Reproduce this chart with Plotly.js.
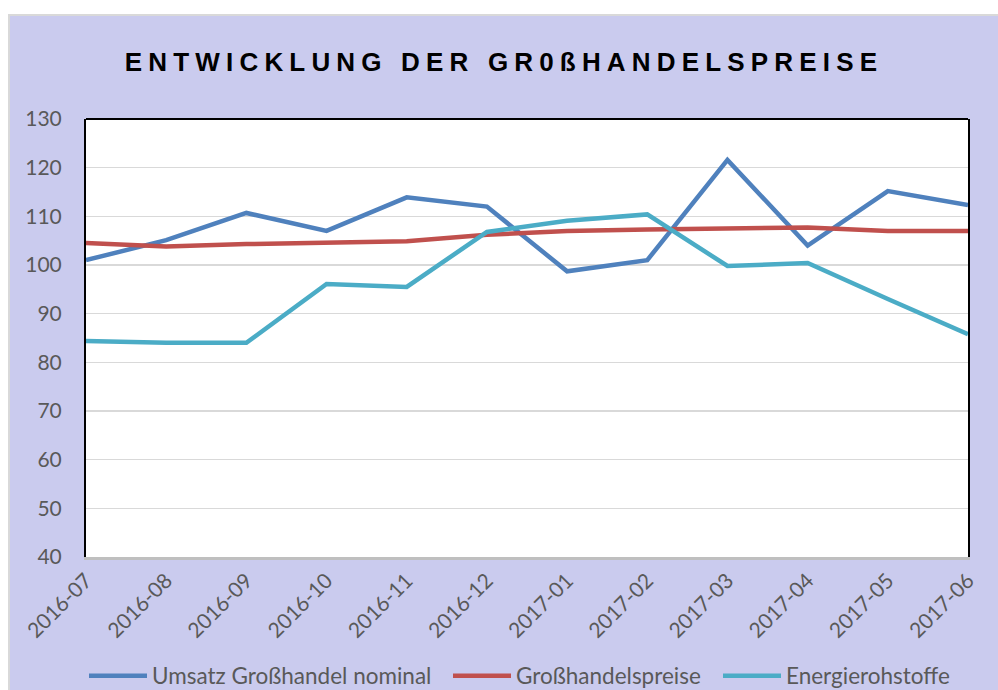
<!DOCTYPE html>
<html>
<head>
<meta charset="utf-8">
<script src="https://cdn.plot.ly/plotly-3.0.1.min.js"></script>
<style>
  html, body { margin: 0; padding: 0; background: #ffffff; }
  #chart { width: 998px; height: 690px; }
</style>
</head>
<body>
<div id="chart"></div>
<script>
const months = ["2016-07","2016-08","2016-09","2016-10","2016-11","2016-12","2017-01","2017-02","2017-03","2017-04","2017-05","2017-06"];
const umsatzNominal = [101.0, 105.1, 110.7, 107.0, 113.9, 112.0, 98.7, 101.0, 121.6, 104.0, 115.2, 112.3];
const grosshandelspreise = [104.5, 103.8, 104.3, 104.7, 104.9, 106.2, 107.0, 107.3, 107.4, 107.7, 107.0, 107.0];
const energierohstoffe = [84.4, 84.0, 84.0, 96.1, 95.5, 106.8, 109.1, 110.4, 99.8, 100.4, 93.0, 85.8];
const seriesNames = ["Umsatz Großhandel nominal", "Großhandelspreise", "Energierohstoffe"];
const titleText = "ENTWICKLUNG DER GR0ßHANDELSPREISE";

const tickFont = { family: "Lato, 'Open Sans', sans-serif", size: 21, color: "#595959" };
const legendFont = { family: "Lato, 'Open Sans', sans-serif", size: 22.5, color: "#595959" };

const traces = [
  { x: months, y: umsatzNominal, name: seriesNames[0], type: "scatter", mode: "lines",
    legend: "legend", line: { color: "#4F81BD", width: 4.5 } },
  { x: months, y: grosshandelspreise, name: seriesNames[1], type: "scatter", mode: "lines",
    legend: "legend2", line: { color: "#C0504D", width: 4.5 } },
  { x: months, y: energierohstoffe, name: seriesNames[2], type: "scatter", mode: "lines",
    legend: "legend3", line: { color: "#4BACC6", width: 4.5 } }
];

const L = 86, R = 968, T = 119, B = 557, W = 998, H = 690;
const pw = R - L, ph = B - T;
const px = p => (p - L) / pw;
const py = p => (B - p) / ph;

function legendAt(leftPx) {
  return {
    orientation: "h",
    xref: "container", yref: "container",
    x: leftPx / W, xanchor: "left",
    y: 1 - 676 / H, yanchor: "middle",
    font: legendFont,
    bgcolor: "rgba(0,0,0,0)",
    itemwidth: 58
  };
}

const layout = {
  width: W, height: H,
  paper_bgcolor: "#ffffff",
  plot_bgcolor: "#ffffff",
  margin: { l: L, r: W - R, t: T, b: H - B, pad: 0, autoexpand: false },
  title: {
    text: titleText,
    font: { family: "'Liberation Sans Narrow', 'Liberation Sans', Arial, sans-serif", size: 26, color: "#000000", weight: "bold" },
    x: 504 / W, xanchor: "center", xref: "container",
    y: 1 - 62 / H, yanchor: "middle", yref: "container"
  },
  showlegend: true,
  legend: legendAt(90 - 6),
  legend2: legendAt(455 - 7),
  legend3: legendAt(725 - 7),
  xaxis: {
    type: "category",
    range: [0, 11],
    automargin: false,
    showgrid: false,
    zeroline: false,
    showline: true,
    linecolor: "#bfbfbf",
    linewidth: 3,
    tickangle: -45,
    tickfont: tickFont,
    ticks: "",
    fixedrange: true
  },
  yaxis: {
    range: [40, 130],
    dtick: 10,
    tick0: 40,
    automargin: false,
    showgrid: true,
    gridcolor: "#d9d9d9",
    gridwidth: 1.5,
    zeroline: false,
    showline: true,
    linecolor: "#000000",
    linewidth: 2,
    mirror: true,
    tickfont: tickFont,
    ticks: "",
    ticklabelstandoff: 18,
    fixedrange: true
  },
  shapes: [
    { type: "rect", xref: "paper", yref: "paper", layer: "below",
      x0: px(9), x1: px(1010), y0: py(15), y1: py(700),
      fillcolor: "#CACBEE", line: { color: "#d9d9d9", width: 2 } },
    { type: "rect", xref: "paper", yref: "paper", layer: "below",
      x0: 0, x1: 1, y0: 0, y1: 1,
      fillcolor: "#ffffff", line: { width: 0 } },
    { type: "line", xref: "paper", yref: "paper", layer: "above",
      x0: 0, x1: 1, y0: 1, y1: 1,
      line: { color: "#000000", width: 2 } }
  ]
};

Plotly.newPlot("chart", traces, layout, { displayModeBar: false, staticPlot: true }).then(() => {
  const t = document.querySelector("#chart .gtitle");
  if (t) {
    const target = 752;
    const natural = t.getComputedTextLength();
    const n = titleText.length;
    const ls = Math.max(0, (target - natural) / (n - 1));
    t.style.letterSpacing = ls.toFixed(2) + "px";
  }
});
</script>
</body>
</html>
